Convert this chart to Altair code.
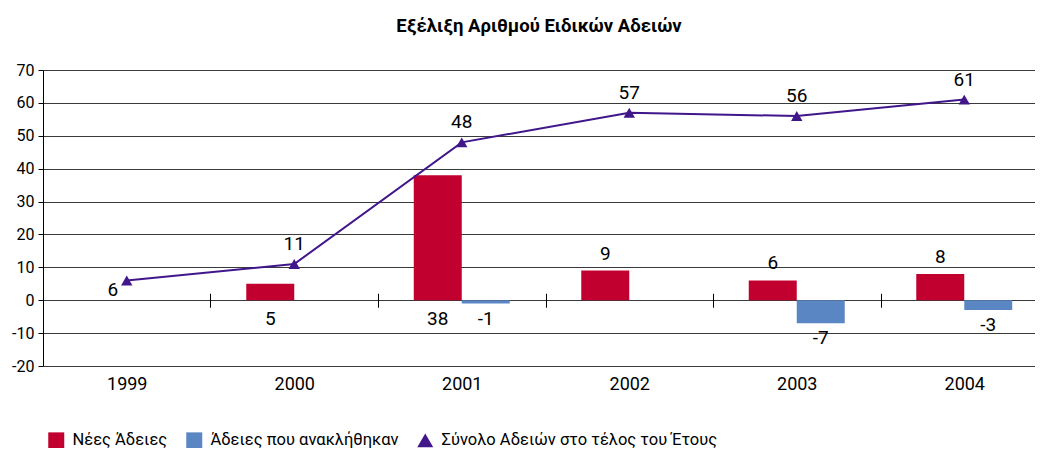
import altair as alt
import pandas as pd

# ---- data ----
years = ["1999", "2000", "2001", "2002", "2003", "2004"]
new_permits = [None, 5, 38, 9, 6, 8]
revoked = [None, None, -1, None, -7, -3]
total = [6, 11, 48, 57, 56, 61]

S_NEW = "Νέες Άδειες"
S_REV = "Άδειες που ανακλήθηκαν"
S_TOT = "Σύνολο Αδειών στο τέλος του Έτους"
series_names = [S_NEW, S_REV, S_TOT]
colors = ["#C1002F", "#5B86C4", "#40168A"]
y_ticks = [-20, -10, 0, 10, 20, 30, 40, 50, 60, 70]
labels_below_years = ["2000", "2001"]

rows = []
for yr, n, r in zip(years, new_permits, revoked):
    if n is not None:
        rows.append({"year": yr, "series": S_NEW, "value": n})
    if r is not None:
        rows.append({"year": yr, "series": S_REV, "value": r})
bars_df = pd.DataFrame(rows)
tot_df = pd.DataFrame({"year": years, "series": [S_TOT] * len(years), "value": total})

W, H = 992, 296
FONT = "Roboto"
zero_px = H * 70 / 90
RANGE = 1005
P_IN = 0.427
half_gap = P_IN * (RANGE / len(years)) / 2

x_scale = alt.Scale(domain=years, range=[0, RANGE], paddingInner=P_IN, paddingOuter=P_IN / 2)
y_scale = alt.Scale(domain=[-20, 70], nice=False, zero=False)
color_scale = alt.Scale(domain=series_names, range=colors)
shape_scale = alt.Scale(domain=series_names, range=["square", "square", "triangle-up"])
off_scale = alt.Scale(domain=[S_NEW, S_REV], paddingInner=0, paddingOuter=0)

x_axis = alt.Axis(
    title=None, bandPosition=1, tickExtra=False, tickOffset=half_gap,
    labelOffset=-half_gap, domain=False, ticks=True, tickSize=14,
    tickColor="black", tickWidth=1, offset=-(H - (zero_px - 7)),
    labelPadding=68, labelFontSize=18, labelColor="black", labelFont=FONT,
    grid=False, labelAngle=0,
)
y_axis = alt.Axis(
    title=None, values=y_ticks, domain=True, domainColor="black", domainWidth=1,
    ticks=True, tickSize=5, tickColor="black", grid=True, gridColor="#3a3a3a",
    gridWidth=1, labelFontSize=16, labelFont=FONT, labelColor="black",
    labelPadding=4, labelExpr="datum.value + ''",
)
legend = alt.Legend(
    title=None, orient="none", legendX=5, legendY=362, direction="horizontal",
    symbolSize=256, labelFontSize=16.5, labelFont=FONT, labelColor="black",
    columnPadding=18, labelOffset=8, symbolOpacity=1, symbolStrokeWidth=0,
    labelLimit=600,
)

X = alt.X("year:N", scale=x_scale, axis=x_axis)
Y = alt.Y("value:Q", scale=y_scale, axis=y_axis)

bars = alt.Chart(bars_df).mark_bar().encode(
    x=X,
    xOffset=alt.XOffset("series:N", scale=off_scale),
    y=Y,
    color=alt.Color("series:N", scale=color_scale, legend=legend),
)

line = alt.Chart(tot_df).mark_line(color="#40168A", strokeWidth=2).encode(x=X, y=Y)

points = alt.Chart(tot_df).mark_point(filled=True, size=130, opacity=1).encode(
    x=X, y=Y,
    color=alt.Color("series:N", scale=color_scale, legend=legend),
    shape=alt.Shape("series:N", scale=shape_scale, legend=legend),
)

txt = dict(font=FONT, fontSize=19, color="black", baseline="middle", align="center")

new_below = alt.Chart(bars_df).transform_filter(
    alt.FieldEqualPredicate(field="series", equal=S_NEW)
).transform_filter(
    alt.FieldOneOfPredicate(field="year", oneOf=labels_below_years)
).transform_calculate(base="0").mark_text(dy=19, **txt).encode(
    x=X, xOffset=alt.XOffset("series:N", scale=off_scale),
    y=alt.Y("base:Q", scale=y_scale, axis=y_axis),
    text=alt.Text("value:N"),
)

new_above = alt.Chart(bars_df).transform_filter(
    alt.FieldEqualPredicate(field="series", equal=S_NEW)
).transform_filter(
    ~alt.FieldOneOfPredicate(field="year", oneOf=labels_below_years)
).mark_text(dy=-17, **txt).encode(
    x=X, xOffset=alt.XOffset("series:N", scale=off_scale), y=Y,
    text=alt.Text("value:N"),
)

rev_labels = alt.Chart(bars_df).transform_filter(
    alt.FieldEqualPredicate(field="series", equal=S_REV)
).mark_text(dy=15, **txt).encode(
    x=X, xOffset=alt.XOffset("series:N", scale=off_scale), y=Y,
    text=alt.Text("value:N"),
)

tot_labels = alt.Chart(tot_df).transform_filter(
    alt.datum.year != years[0]
).mark_text(dy=-20, **txt).encode(x=X, y=Y, text=alt.Text("value:N"))

tot_first = alt.Chart(tot_df).transform_filter(
    alt.datum.year == years[0]
).mark_text(dx=-14, dy=10, **txt).encode(x=X, y=Y, text=alt.Text("value:N"))

chart = alt.layer(
    bars, line, points, new_below, new_above, rev_labels, tot_labels, tot_first
).properties(
    width=W, height=H,
    title=alt.TitleParams(
        "Εξέλιξη Αριθμού Ειδικών Αδειών", font=FONT, fontSize=18.5,
        fontWeight="bold", color="black", offset=27, anchor="middle",
    ),
    autosize=alt.AutoSizeParams(type="none"),
    padding={"left": 35, "top": 62, "right": 0, "bottom": 82},
).configure_view(stroke=None).configure(background="white")

chart.save("out.html", embed_options={"renderer": "svg", "actions": False})
